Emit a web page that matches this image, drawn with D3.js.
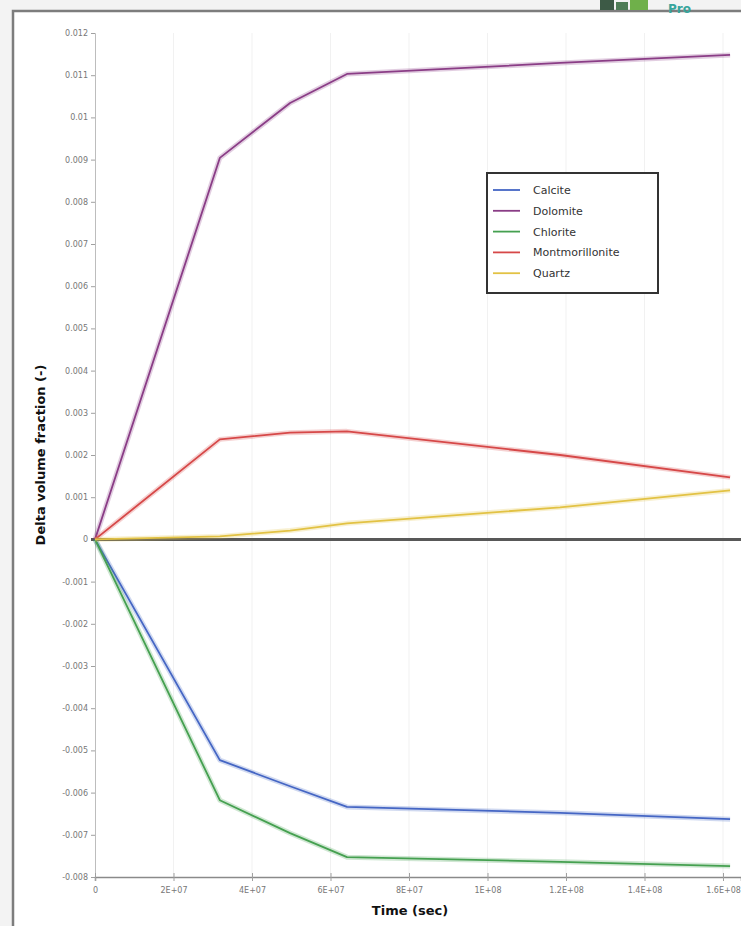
<!DOCTYPE html>
<html>
<head>
<meta charset="utf-8">
<script src="https://cdn.jsdelivr.net/npm/d3@7/dist/d3.min.js"></script>
<style>
  html, body { margin: 0; padding: 0; background: #f3f3f3; }
  svg { display: block; }
  text { font-family: "DejaVu Sans", Verdana, sans-serif; }
</style>
</head>
<body>
<svg id="chart" width="741" height="926"></svg>
<script>
// Simulation output times (s) and change in mineral volume fraction
const timeSec = [0, 3.18e7, 4.97e7, 6.42e7, 1.185e8, 1.618e8];
const minerals = ["Calcite", "Dolomite", "Chlorite", "Montmorillonite", "Quartz"];
const calcite = [0, -0.00523, -0.00585, -0.00634, -0.00648, -0.00663];
const dolomite = [0, 0.00904, 0.01034, 0.01103, 0.01129, 0.01148];
const chlorite = [0, -0.00618, -0.00696, -0.00753, -0.00764, -0.00774];
const montmorillonite = [0, 0.00237, 0.00253, 0.00256, 0.00200, 0.00147];
const quartz = [0, 0.00007, 0.00021, 0.00038, 0.00076, 0.00116];
const lineColors = ["#4566c4", "#8a3d86", "#45a050", "#d64848", "#e2c244"];

const xTicks = [0, 2e7, 4e7, 6e7, 8e7, 1e8, 1.2e8, 1.4e8, 1.6e8];
const xTickLabels = ["0", "2E+07", "4E+07", "6E+07", "8E+07", "1E+08", "1.2E+08", "1.4E+08", "1.6E+08"];
const yTicks = [0.012, 0.011, 0.01, 0.009, 0.008, 0.007, 0.006, 0.005, 0.004, 0.003, 0.002, 0.001, 0,
  -0.001, -0.002, -0.003, -0.004, -0.005, -0.006, -0.007, -0.008];

const seriesValues = [calcite, dolomite, chlorite, montmorillonite, quartz];
const series = minerals.map((name, i) => ({
  name, color: lineColors[i],
  points: timeSec.map((t, j) => ({ t, v: seriesValues[i][j] }))
}));

const svg = d3.select("#chart");
const W = 741, H = 926;
const plot = { left: 95, right: 741, top: 33, bottom: 877 };

// framed white panel (runs off the right and bottom edges)
svg.append("rect").attr("x", 0).attr("y", 0).attr("width", W).attr("height", H).attr("fill", "#f3f3f3");
svg.append("rect").attr("x", 13).attr("y", 11).attr("width", W + 10).attr("height", H + 10)
  .attr("fill", "#ffffff").attr("stroke", "#7d7d7d").attr("stroke-width", 2.5);

// logo strip at the top right
const logo = svg.append("g");
logo.append("rect").attr("x", 600).attr("y", 0).attr("width", 14).attr("height", 10).attr("fill", "#3d5a46");
logo.append("rect").attr("x", 616).attr("y", 2).attr("width", 12).attr("height", 8).attr("fill", "#4f7d57");
logo.append("rect").attr("x", 630).attr("y", 0).attr("width", 18).attr("height", 10).attr("fill", "#6fb04a");
logo.append("text").attr("x", 668).attr("y", 13).attr("font-size", 12).attr("font-weight", "bold")
  .attr("fill", "#37a59c").text("Pro");

// scales: 2E+07 s spans 78.5 px
const pxPerUnit = 78.5 / 2e7;
const x = d3.scaleLinear().domain([0, (plot.right - plot.left) / pxPerUnit]).range([plot.left, plot.right]);
const y = d3.scaleLinear().domain([-0.008, 0.012]).range([plot.bottom, plot.top]);

// faint vertical grid
svg.append("g").selectAll("line").data(xTicks.slice(1)).join("line")
  .attr("x1", d => x(d)).attr("x2", d => x(d)).attr("y1", plot.top).attr("y2", plot.bottom)
  .attr("stroke", "#f1f1f1").attr("stroke-width", 1);

// y axis (plain hyphen for negatives)
const yAxis = d3.axisLeft(y).tickValues(yTicks).tickSize(4).tickPadding(3)
  .tickFormat(d => String(+d.toFixed(3)));
const gy = svg.append("g").attr("transform", `translate(${plot.left},0)`).call(yAxis);
gy.select(".domain").attr("stroke", "#bdbdbd");
gy.selectAll(".tick line").attr("stroke", "#a0a0a0");
gy.selectAll(".tick text").attr("fill", "#777").attr("font-size", 8)
  .attr("font-family", "DejaVu Sans, sans-serif");

// x axis
const xAxis = d3.axisBottom(x).tickValues(xTicks).tickSize(4).tickPadding(6)
  .tickFormat((d, i) => xTickLabels[i]);
const gx = svg.append("g").attr("transform", `translate(0,${plot.bottom})`).call(xAxis);
gx.select(".domain").attr("stroke", "#8a8a8a").attr("stroke-width", 1.5);
gx.selectAll(".tick line").attr("stroke", "#a0a0a0").attr("y1", -4);
gx.selectAll(".tick text").attr("fill", "#777").attr("font-size", 8)
  .attr("font-family", "DejaVu Sans, sans-serif");

// zero reference line
svg.append("line").attr("x1", x(0) - 4).attr("x2", plot.right).attr("y1", y(0)).attr("y2", y(0))
  .attr("stroke", "#585858").attr("stroke-width", 3);

// series lines
const line = d3.line().x(d => x(d.t)).y(d => y(d.v));
const gLines = svg.append("g");
series.forEach(s => {
  gLines.append("path").datum(s.points).attr("d", line).attr("fill", "none")
    .attr("stroke", s.color).attr("stroke-opacity", 0.25).attr("stroke-width", 5)
    .attr("stroke-linejoin", "round");
  gLines.append("path").datum(s.points).attr("d", line).attr("fill", "none")
    .attr("stroke", s.color).attr("stroke-width", 1.8).attr("stroke-linejoin", "round");
});

// axis titles
svg.append("text").attr("x", 410).attr("y", 915).attr("text-anchor", "middle")
  .attr("font-size", 13).attr("font-weight", "bold").attr("fill", "#111").text("Time (sec)");
svg.append("text").attr("transform", "translate(45,455) rotate(-90)").attr("text-anchor", "middle")
  .attr("font-size", 13).attr("font-weight", "bold").attr("fill", "#111").text("Delta volume fraction (-)");

// legend
const lg = svg.append("g").attr("transform", "translate(487,173)");
lg.append("rect").attr("width", 171).attr("height", 120).attr("fill", "#fff")
  .attr("stroke", "#333").attr("stroke-width", 2);
series.forEach((s, i) => {
  const ry = 17 + i * 20.8;
  lg.append("line").attr("x1", 6).attr("x2", 33).attr("y1", ry).attr("y2", ry)
    .attr("stroke", s.color).attr("stroke-width", 1.8);
  lg.append("text").attr("x", 46).attr("y", ry + 4).attr("font-size", 11).attr("fill", "#333").text(s.name);
});
</script>
</body>
</html>
